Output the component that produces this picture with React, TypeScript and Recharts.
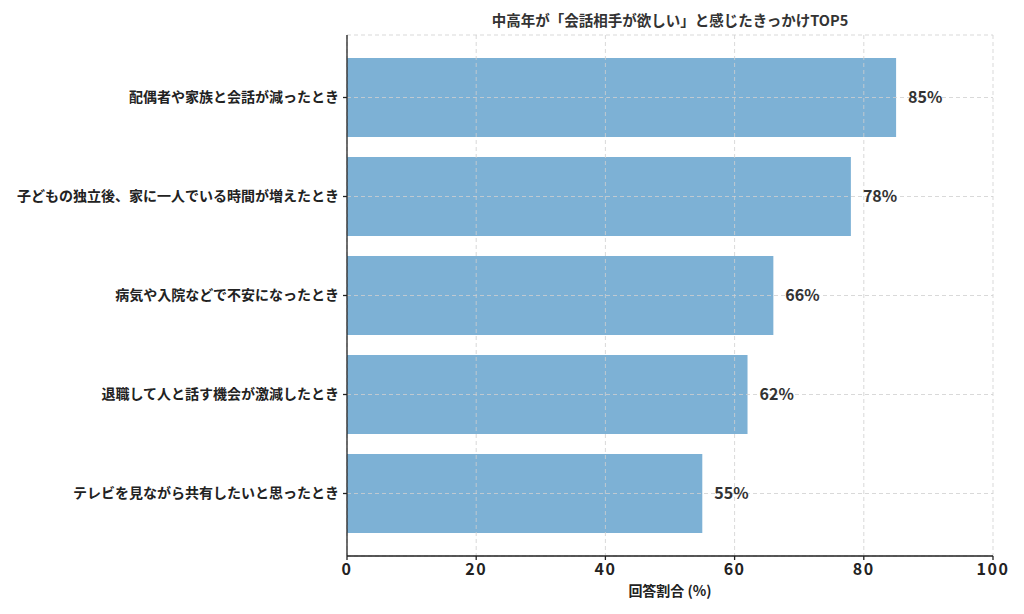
import { BarChart, Bar, XAxis, YAxis, CartesianGrid, LabelList } from "recharts";

const reasons = [
  "配偶者や家族と会話が減ったとき",
  "子どもの独立後、家に一人でいる時間が増えたとき",
  "病気や入院などで不安になったとき",
  "退職して人と話す機会が激減したとき",
  "テレビを見ながら共有したいと思ったとき",
];
const shares = [85, 78, 66, 62, 55];
const xTicks = [0, 20, 40, 60, 80, 100];

const data = reasons.map((r, i) => ({ name: r, value: shares[i] }));

const font = "'Noto Sans CJK JP', 'Noto Sans', sans-serif";

const App = () => {
  return (
    <div style={{ position: "relative", width: 1016, height: 598, fontFamily: font }}>
      <div
        style={{
          position: "absolute",
          left: 339,
          width: 646,
          top: 1,
          textAlign: "center",
          fontSize: 14.5,
          fontWeight: 700,
          color: "#333",
        }}
      >
        中高年が「会話相手が欲しい」と感じたきっかけTOP5
      </div>
      <BarChart
        width={1016}
        height={598}
        data={data}
        layout="vertical"
        margin={{ top: 27, right: 31, bottom: 10, left: 0 }}
      >
        <XAxis
          type="number"
          domain={[0, 100]}
          ticks={xTicks}
          height={40}
          tickSize={4}
          tickMargin={4}
          stroke="#222"
          strokeWidth={1.3}
          tick={{ fill: "#222", fontSize: 16, fontWeight: 700, fontFamily: font, letterSpacing: 1.5 }}
          label={{
            value: "回答割合 (%)",
            position: "insideBottom",
            offset: 0,
            fill: "#222",
            fontSize: 14,
            fontWeight: 700,
            fontFamily: font,
          }}
        />
        <YAxis
          type="category"
          dataKey="name"
          width={339}
          padding={{ top: 13, bottom: 13 }}
          tickSize={4}
          tickMargin={4}
          stroke="#222"
          strokeWidth={1.3}
          tick={{ fill: "#222", fontSize: 14, fontWeight: 700, fontFamily: font }}
          interval={0}
        />
        <Bar dataKey="value" fill="#7db1d5" barSize={79} isAnimationActive={false}>
          <LabelList
            dataKey="value"
            position="right"
            offset={12}
            formatter={(v: any) => `${v}%`}
            style={{ fill: "#333", fontSize: 16, fontWeight: 700, fontFamily: font }}
          />
        </Bar>
        <CartesianGrid
          stroke="#d0d0d0"
          strokeDasharray="4 3"
          strokeOpacity={0.8}
          {...({ zIndex: 400 } as any)}
        />
      </BarChart>
    </div>
  );
};

export default App;
